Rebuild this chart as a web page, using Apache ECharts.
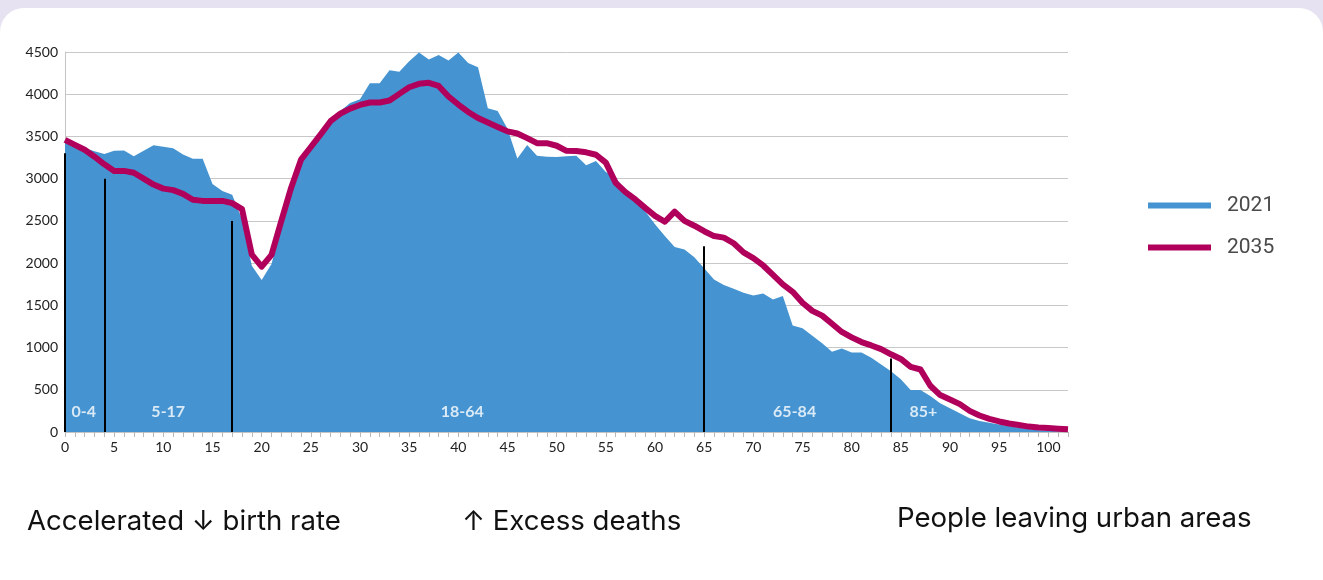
<!DOCTYPE html>
<html>
<head>
<meta charset="utf-8">
<script src="https://cdn.jsdelivr.net/npm/echarts@6/dist/echarts.min.js"></script>
<style>
  html, body { margin: 0; padding: 0; background: #e6e2f1; }
  #card { position: absolute; left: 0; top: 8px; width: 1323px; height: 600px; background: #fff; border-radius: 24px; }
  #chart { position: absolute; left: 0; top: 0; width: 1323px; height: 580px; }
</style>
</head>
<body>
<div id="card"></div>
<div id="chart"></div>
<script>
// age in years (single-year bands)
const ages = [0,1,2,3,4,5,6,7,8,9,10,11,12,13,14,15,16,17,18,19,20,21,22,23,24,25,26,27,28,29,
  30,31,32,33,34,35,36,37,38,39,40,41,42,43,44,45,46,47,48,49,50,51,52,53,54,55,56,57,58,59,
  60,61,62,63,64,65,66,67,68,69,70,71,72,73,74,75,76,77,78,79,80,81,82,83,84,85,86,87,88,89,
  90,91,92,93,94,95,96,97,98,99,100,101,102];

const pop2021 = [3440,3405,3362,3325,3292,3330,3333,3265,3330,3397,
  3378,3360,3287,3235,3235,2938,2855,2810,2520,1970,
  1800,1990,2430,2860,3180,3350,3510,3670,3800,3895,
  3941,4131,4131,4285,4265,4390,4495,4410,4465,4400,
  4495,4370,4320,3835,3800,3590,3240,3400,3270,3260,
  3257,3265,3270,3160,3210,3080,3010,2860,2750,2615,
  2460,2320,2190,2160,2070,1940,1805,1740,1695,1650,
  1615,1640,1570,1610,1260,1228,1140,1050,950,990,
  940,940,880,800,720,625,498,498,425,340,
  280,222,164,130,110,90,70,50,35,20,
  15,8,2];

const pop2035 = [3460,3400,3342,3260,3170,3092,3092,3070,3000,2930,
  2882,2864,2820,2750,2737,2737,2737,2710,2640,2100,
  1958,2097,2500,2893,3225,3375,3525,3680,3770,3830,
  3873,3902,3902,3925,4004,4083,4123,4135,4098,3973,
  3878,3790,3718,3666,3613,3560,3535,3480,3420,3420,
  3390,3330,3327,3312,3283,3190,2950,2840,2754,2654,
  2560,2490,2610,2500,2443,2378,2320,2302,2235,2127,
  2060,1972,1860,1748,1660,1530,1435,1378,1282,1185,
  1121,1065,1025,982,920,865,772,740,548,437,
  385,330,250,195,155,125,100,82,64,53,
  46,39,32];

// age-group dividers and their labels
const dividerAges = [0, 4, 17, 65, 84];
const dividerTops = [3300, 3000, 2500, 2200, 870];
const groupNames = ['0-4', '5-17', '18-64', '65-84', '85+'];
const groupLabelAges = [1.9, 10.5, 40.4, 74.2, 87.3];
const groupLabelLevel = 240;

const notes = ['Accelerated \u2193 birth rate', '\u2191 Excess deaths', 'People leaving urban areas'];

const chart = echarts.init(document.getElementById('chart'));

const option = {
    animation: false,
    backgroundColor: 'transparent',
    grid: { left: 65, right: 255, top: 52, bottom: 148 },
    legend: {
        data: ['2021', '2035'],
        orient: 'vertical',
        left: 1148,
        top: 195,
        itemWidth: 63,
        itemHeight: 6,
        itemGap: 21,
        icon: 'rect',
        padding: 0,
        textStyle: { fontSize: 21, color: '#4a4a4a', fontFamily: 'Roboto', padding: [0, 0, 0, 11] }
    },
    xAxis: {
        type: 'value',
        min: 0,
        max: 102,
        interval: 1,
        axisLine: { show: true, lineStyle: { color: '#c4c4c4' } },
        axisTick: { show: true, length: 5, lineStyle: { color: '#b8b8b8' } },
        splitLine: { show: false },
        axisLabel: {
            color: '#222',
            fontSize: 14,
            fontFamily: 'Lato',
            margin: 8,
            formatter: v => (v % 5 === 0 ? String(v) : '')
        }
    },
    yAxis: {
        type: 'value',
        min: 0,
        max: 4500,
        interval: 500,
        axisLine: { show: true, lineStyle: { color: '#c4c4c4' } },
        axisTick: { show: false },
        splitLine: { lineStyle: { color: '#c8c8c8', width: 1 } },
        axisLabel: { color: '#222', fontSize: 14, fontFamily: 'Lato', margin: 7, formatter: v => String(v) }
    },
    series: [
        {
            name: '2021',
            type: 'line',
            data: ages.map((a, i) => [a, pop2021[i]]),
            symbol: 'none',
            itemStyle: { color: '#4594d1' },
            lineStyle: { width: 0 },
            areaStyle: { color: '#4594d1', opacity: 1 },
            z: 2,
            markLine: {
                z: 3,
                silent: true,
                symbol: 'none',
                label: { show: false },
                lineStyle: { color: '#000', width: 2, type: 'solid' },
                data: dividerAges.map((a, i) => [{ coord: [a, 0] }, { coord: [a, dividerTops[i]] }])
            }
        },
        {
            name: 'groups',
            type: 'scatter',
            data: groupLabelAges.map((a, i) => ({ value: [a, groupLabelLevel], name: groupNames[i] })),
            symbolSize: 0,
            silent: true,
            z: 3,
            label: {
                show: true,
                position: 'inside',
                formatter: p => p.name,
                color: '#fff',
                fontSize: 16,
                fontWeight: 'bold',
                fontFamily: 'Lato'
            }
        },
        {
            name: '2035',
            type: 'line',
            data: ages.map((a, i) => [a, pop2035[i]]),
            symbol: 'none',
            itemStyle: { color: '#b0005c' },
            lineStyle: { color: '#b0005c', width: 6, join: 'round' },
            z: 4
        }
    ],
    graphic: [
        { type: 'text', left: 27, top: 508, style: { text: notes[0], fill: '#111', font: '27.6px Inter' } },
        { type: 'text', left: 462, top: 508, style: { text: notes[1], fill: '#111', font: '27.6px Inter' } },
        { type: 'text', left: 897, top: 505, style: { text: notes[2], fill: '#111', font: '27.6px Inter' } }
    ]
};

chart.setOption(option);
</script>
</body>
</html>
